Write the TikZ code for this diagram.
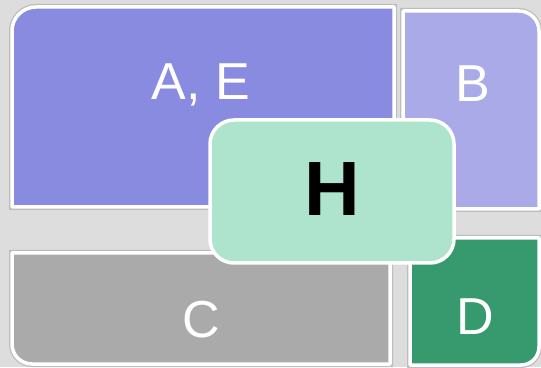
\documentclass[tikz,border=0pt]{standalone}
\usepackage{fontspec}
\setmainfont{Liberation Sans}
\definecolor{bgc}{HTML}{DDDDDD}
\definecolor{acol}{HTML}{898BE1}
\definecolor{bcol}{HTML}{AAAAE8}
\definecolor{ccol}{HTML}{AAAAAA}
\definecolor{dcol}{HTML}{379A6F}
\definecolor{hcol}{HTML}{AEE4CE}
\definecolor{edgec}{HTML}{BDBDBD}
\tikzset{
  shadowline/.style={draw=edgec, line width=6pt},
  tilebox/.style={draw=white, line width=3.5pt, line join=round},
  tilelabel/.style={text=white, anchor=base, inner sep=0pt, font=\fontsize{52}{60}\selectfont},
  hlabel/.style={text=black, anchor=base, inner sep=0pt, font=\fontsize{77}{90}\selectfont\bfseries},
}
\begin{document}
\begin{tikzpicture}[x=1pt,y=1pt]
\fill[bgc] (0,0) rectangle (541,367);
\useasboundingbox (0,0) rectangle (541,367);
% A
\path[shadowline] (12,160) -- (12,336) arc[start angle=180,end angle=90,radius=24pt] -- (394,360) -- (394,160) -- cycle;
\path[tilebox, fill=acol] (12,160) -- (12,336) arc[start angle=180,end angle=90,radius=24pt] -- (394,360) -- (394,160) -- cycle;
% B
\path[shadowline] (403,158) -- (403,356) -- (519,356) arc[start angle=90,end angle=0,radius=20pt] -- (539,158) -- cycle;
\path[tilebox, fill=bcol] (403,158) -- (403,356) -- (519,356) arc[start angle=90,end angle=0,radius=20pt] -- (539,158) -- cycle;
% C
\path[shadowline] (12,114) -- (12,23) arc[start angle=180,end angle=270,radius=20pt] -- (390,3) -- (390,114) -- cycle;
\path[tilebox, fill=ccol] (12,114) -- (12,23) arc[start angle=180,end angle=270,radius=20pt] -- (390,3) -- (390,114) -- cycle;
% D
\path[shadowline] (410,129) -- (410,2) -- (521,2) arc[start angle=270,end angle=360,radius=18pt] -- (539,129) -- cycle;
\path[tilebox, fill=dcol] (410,129) -- (410,2) -- (521,2) arc[start angle=270,end angle=360,radius=18pt] -- (539,129) -- cycle;
% labels
\node[tilelabel] (la) at (201,267) {A, E};
\node[tilelabel] (lb) at (473,265) {B};
\node[tilelabel] (lc) at (201,30) {C};
\node[tilelabel] (ld) at (475,33) {D};
% H
\path[tilebox, fill=hcol, rounded corners=24pt] (210,104) rectangle (454,247);
\node[hlabel] (lh) at (332,151) {H};
\end{tikzpicture}
\end{document}
